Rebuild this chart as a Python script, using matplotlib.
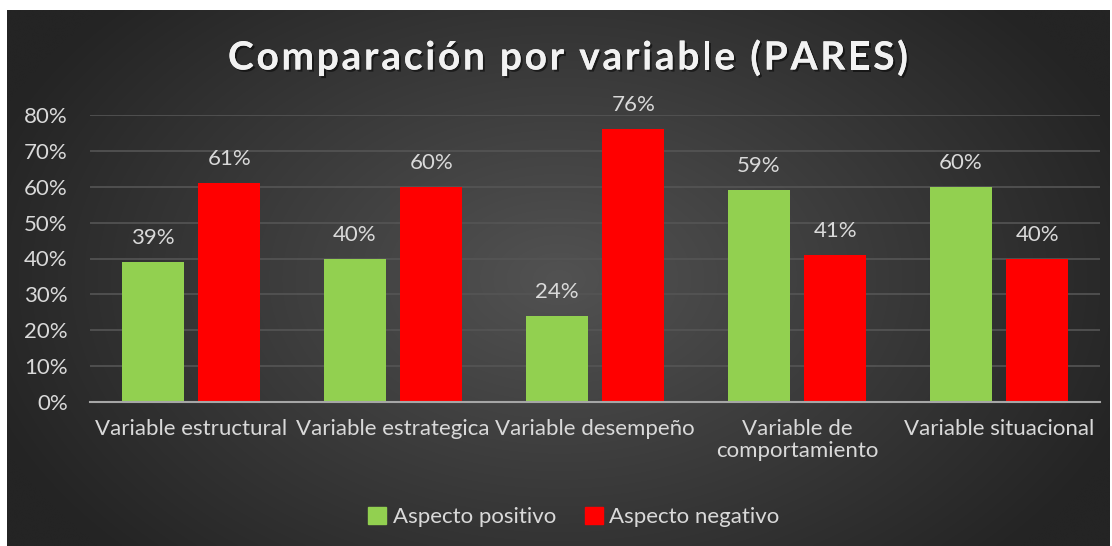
import numpy as np
import matplotlib
matplotlib.use("Agg")
import matplotlib.pyplot as plt
from matplotlib.patches import Patch
import matplotlib.patheffects as pe

categories = ["Variable estructural", "Variable estrategica", "Variable desempeño",
              "Variable de\ncomportamiento", "Variable situacional"]
positivo = [0.39, 0.40, 0.24, 0.59, 0.60]
negativo = [0.61, 0.60, 0.76, 0.41, 0.40]
yticks = [0, 0.1, 0.2, 0.3, 0.4, 0.5, 0.6, 0.7, 0.8]
title = "Comparación por variable (PARES)"

W, H = 1112, 546
fig = plt.figure(figsize=(W / 100, H / 100), dpi=100)
fig.patch.set_facecolor("white")

plt.rcParams["font.family"] = ["Lato", "DejaVu Sans"]
FS = 16

# background with radial gradient
bx0, bx1, by0, by1 = 7, 1110, 10, 546
bg = fig.add_axes([bx0 / W, 1 - by1 / H, (bx1 - bx0) / W, (by1 - by0) / H])
ny, nx = 300, 600
yy, xx = np.mgrid[0:ny, 0:nx]
cx, cy = nx * 0.5, ny * 0.5
r = np.sqrt(((xx - cx) / (nx * 0.55)) ** 2 + ((yy - cy) / (ny * 0.75)) ** 2)
r = np.clip(r, 0, 1)
c0, c1 = np.array([0x52, 0x52, 0x52]) / 255, np.array([0x24, 0x24, 0x24]) / 255
img = c0[None, None, :] * (1 - r[..., None]) + c1[None, None, :] * r[..., None]
bg.imshow(img, aspect="auto", extent=[0, 1, 0, 1], interpolation="bicubic")
bg.set_axis_off()

# plot area
px0, px1, py0, py1 = 90, 1100, 115, 402
ax = fig.add_axes([px0 / W, 1 - py1 / H, (px1 - px0) / W, (py1 - py0) / H])
ax.patch.set_alpha(0)
x = np.arange(len(categories))
bw = 0.307
off = 0.19
green = "#92d050"
red = "#ff0000"
b1 = ax.bar(x - off, positivo, bw, color=green, label="Aspecto positivo", zorder=3)
b2 = ax.bar(x + off, negativo, bw, color=red, label="Aspecto negativo", zorder=3)
ax.set_xlim(-0.5, len(categories) - 0.5)
ax.set_ylim(0, 0.8)
ax.set_yticks(yticks)
ax.set_yticklabels([f"{int(round(t * 100))}%" for t in yticks])
ax.set_xticks(x)
ax.set_xticklabels(categories, linespacing=1.15)
txtc = "#d9d9d9"
ax.tick_params(axis="y", length=0, labelsize=FS, labelcolor=txtc, pad=16)
ax.tick_params(axis="x", length=0, labelsize=FS, labelcolor=txtc, pad=12)
ax.grid(axis="y", color="#555555", linewidth=1.2, zorder=0)
for s in ["top", "right", "left"]:
    ax.spines[s].set_visible(False)
ax.spines["bottom"].set_color("#a6a6a6")
ax.spines["bottom"].set_linewidth(1.5)
ax.spines["bottom"].set_zorder(4)

for bars, vals in [(b1, positivo), (b2, negativo)]:
    for rect, v in zip(bars, vals):
        ax.annotate(f"{int(round(v * 100))}%", (rect.get_x() + rect.get_width() / 2, v),
                    xytext=(0, 10), textcoords="offset points", ha="center", va="bottom",
                    fontsize=FS, color=txtc)

# title with letter spacing
renderer = fig.canvas.get_renderer()
tfs = 28
widths = []
for ch in title:
    if ch == " ":
        tt = fig.text(0, 0, "a a", fontsize=tfs, fontweight="bold")
        w_full = tt.get_window_extent(renderer).width
        tt.remove()
        tt = fig.text(0, 0, "aa", fontsize=tfs, fontweight="bold")
        w = w_full - tt.get_window_extent(renderer).width
        tt.remove()
    else:
        tt = fig.text(0, 0, ch, fontsize=tfs, fontweight="bold")
        w = tt.get_window_extent(renderer).width
        tt.remove()
    widths.append(w)
target = 680.0
extra = (target - sum(widths)) / (len(title) - 1)
xcur = 568 - target / 2
for ch, w in zip(title, widths):
    if ch != " ":
        t = fig.text(xcur / W, 1 - 58 / H, ch, ha="left", va="center", fontsize=tfs,
                     fontweight="bold", color="#f2f2f2")
        t.set_path_effects([pe.withSimplePatchShadow(offset=(1.5, -1.5), shadow_rgbFace="black", alpha=0.5),
                            pe.Normal()])
    xcur += w + extra

leg = fig.legend(handles=[Patch(color=green, label="Aspecto positivo"),
                          Patch(color=red, label="Aspecto negativo")],
                 loc="center", bbox_to_anchor=(574 / W, 1 - 517 / H), ncol=2, frameon=False,
                 fontsize=FS, labelcolor=txtc, handlelength=0.8, handleheight=0.8,
                 handletextpad=0.3, columnspacing=1.3)

fig.savefig("out.png", dpi=100, facecolor="white")
